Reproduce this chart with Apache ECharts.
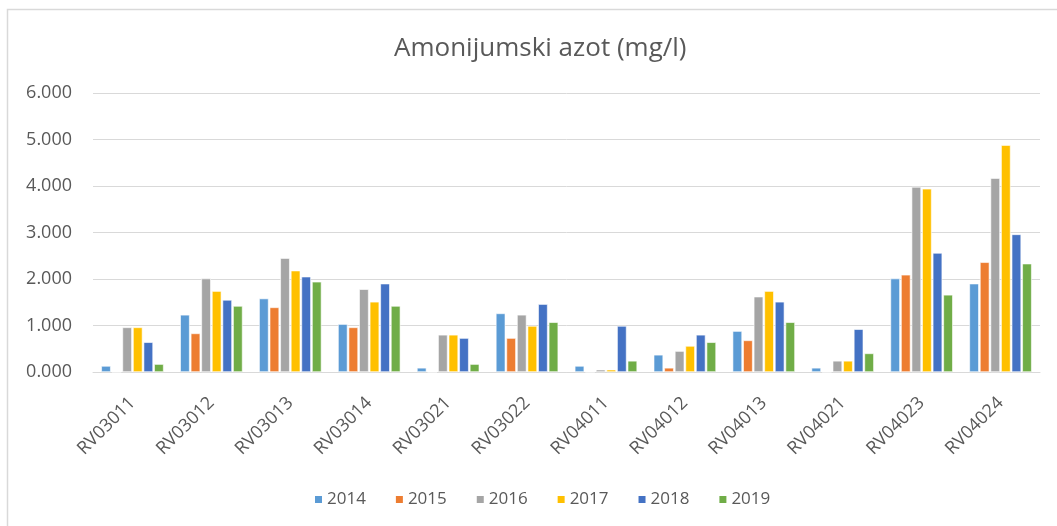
<!DOCTYPE html>
<html>
<head>
<meta charset="utf-8">
<script src="https://cdn.jsdelivr.net/npm/echarts@6/dist/echarts.min.js"></script>
<style>
  html, body { margin: 0; padding: 0; background: #fff; }
  #chart { width: 1057px; height: 526px; }
</style>
</head>
<body>
<div id="chart"></div>
<script>
// Ammonium nitrogen by monitoring station and year (mg/l)
const stations = ['RV03011', 'RV03012', 'RV03013', 'RV03014', 'RV03021', 'RV03022',
                  'RV04011', 'RV04012', 'RV04013', 'RV04021', 'RV04023', 'RV04024'];
const years = ['2014', '2015', '2016', '2017', '2018', '2019'];

const v2014 = [0.13, 1.23, 1.58, 1.03, 0.09, 1.26, 0.13, 0.37, 0.88, 0.09, 2.01, 1.90];
const v2015 = [0.00, 0.83, 1.39, 0.96, 0.00, 0.73, 0.00, 0.09, 0.68, 0.00, 2.09, 2.36];
const v2016 = [0.96, 2.01, 2.45, 1.78, 0.80, 1.23, 0.05, 0.45, 1.62, 0.24, 3.98, 4.17];
const v2017 = [0.96, 1.74, 2.18, 1.51, 0.80, 0.99, 0.05, 0.56, 1.74, 0.24, 3.94, 4.88];
const v2018 = [0.64, 1.55, 2.05, 1.90, 0.73, 1.46, 0.99, 0.80, 1.51, 0.92, 2.56, 2.96];
const v2019 = [0.17, 1.42, 1.94, 1.42, 0.17, 1.07, 0.24, 0.64, 1.07, 0.40, 1.66, 2.33];

const yTicks = ['0.000', '1.000', '2.000', '3.000', '4.000', '5.000', '6.000'];

const seriesValues = [v2014, v2015, v2016, v2017, v2018, v2019];
const colors = ['#5B9BD5', '#ED7D31', '#A5A5A5', '#FFC000', '#4472C4', '#70AD47'];

const font = 'Open Sans';
const textColor = '#595959';

const chart = echarts.init(document.getElementById('chart'), null, { renderer: 'canvas' });

chart.setOption({
  backgroundColor: '#ffffff',
  animation: false,
  color: colors,
  title: {
    text: 'Amonijumski azot (mg/l)',
    left: 389,
    top: 31,
    textStyle: { fontFamily: font, fontSize: 26, fontWeight: 'normal', color: textColor }
  },
  graphic: [{
    type: 'rect',
    shape: { x: 7.5, y: 9.5, width: 1100, height: 600 },
    style: { fill: 'none', stroke: '#d9d9d9', lineWidth: 1.5 },
    silent: true
  }],
  legend: {
    data: years,
    top: 486,
    left: 308,
    itemWidth: 9,
    itemHeight: 9,
    itemGap: 28,
    icon: 'rect',
    textStyle: { fontFamily: font, fontSize: 17, color: textColor, padding: [0, 0, 0, -1] }
  },
  grid: { left: 93, right: 17, top: 93, bottom: 154 },
  xAxis: {
    type: 'category',
    data: stations,
    axisLine: { lineStyle: { color: '#d9d9d9', width: 1 } },
    axisTick: { show: false },
    axisLabel: {
      rotate: 45,
      margin: 28,
      interval: 0,
      fontFamily: font,
      fontSize: 18,
      color: textColor
    }
  },
  yAxis: {
    type: 'value',
    min: 0,
    max: 6,
    interval: 1,
    axisLine: { show: false },
    axisTick: { show: false },
    axisLabel: {
      margin: 21,
      fontFamily: font,
      fontSize: 18,
      color: textColor,
      formatter: (v) => yTicks[Math.round(v)]
    },
    splitLine: { lineStyle: { color: '#d9d9d9', width: 1 } }
  },
  series: years.map((y, i) => ({
    name: y,
    type: 'bar',
    data: seriesValues[i],
    barGap: '12%',
    barCategoryGap: '21%',
    itemStyle: { color: colors[i], borderColor: '#ffffff', borderWidth: 0.6 }
  }))
});
</script>
</body>
</html>
